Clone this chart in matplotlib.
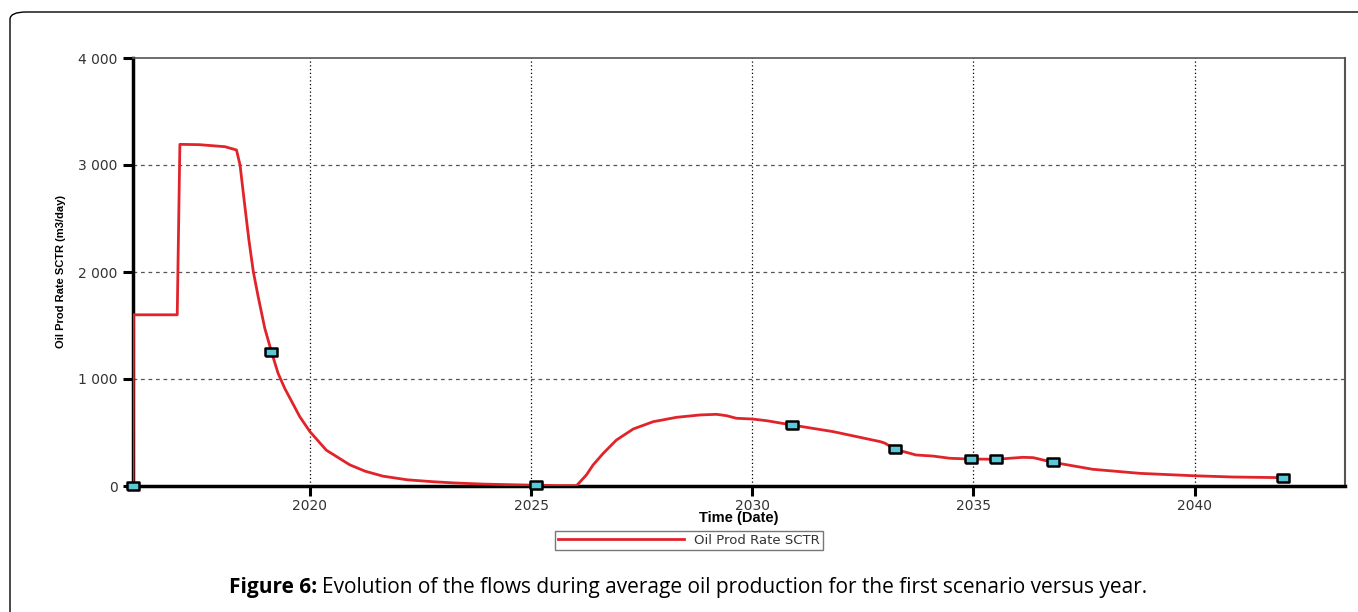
import numpy as np
import matplotlib
matplotlib.use("Agg")
import matplotlib.pyplot as plt
from matplotlib.patches import FancyBboxPatch
from matplotlib.ticker import FuncFormatter

# oil production rate (year, m3/day)
years = [2016.0, 2016.01, 2017.0, 2017.03, 2017.06, 2017.5, 2018.08, 2018.34,
         2018.42, 2018.53, 2018.62, 2018.72, 2018.83, 2018.98, 2019.13, 2019.28,
         2019.43, 2019.77, 2020.0, 2020.37, 2020.9, 2021.25, 2021.65, 2022.2,
         2022.78, 2023.3, 2023.9, 2025.0, 2025.6, 2026.03, 2026.25, 2026.4,
         2026.63, 2026.93, 2027.31, 2027.76, 2028.29, 2028.82, 2029.19, 2029.42,
         2029.64, 2030.0, 2030.33, 2030.9, 2031.83, 2032.9, 2033.0, 2033.23,
         2033.7, 2034.08, 2034.47, 2034.92, 2035.52, 2036.12, 2036.35, 2036.8,
         2037.7, 2038.77, 2039.97, 2040.87, 2042.0]
rate = [0, 1600, 1600, 2400, 3193, 3190, 3171, 3140,
        3000, 2610, 2300, 2003, 1769, 1473, 1255, 1053,
        913, 648, 508, 335, 198, 138, 92, 58,
        40, 28, 18, 8, 4, 4, 103, 196,
        305, 430, 533, 601, 642, 664, 670, 657,
        633, 626, 610, 570, 508, 414, 400, 343,
        290, 280, 259, 252, 250, 268, 265, 221,
        156, 118, 96, 84, 78]

# marker positions on the curve
mark_years = [2016.0, 2019.13, 2025.1, 2030.9, 2033.23, 2034.95, 2035.52, 2036.8, 2042.0]
mark_rate = [0, 1255, 10, 570, 343, 252, 250, 221, 78]

xticks = [2020, 2025, 2030, 2035, 2040]
yticks = [0, 1000, 2000, 3000, 4000]

plt.rcParams['font.family'] = ['DejaVu Sans']

W, H = 1358, 612
fig = plt.figure(figsize=(W / 100, H / 100), dpi=100)

# rounded frame around the figure
frame = FancyBboxPatch((10 / W, -0.2), 1.2, (H - 12) / H + 0.2,
                       boxstyle="round,pad=0,rounding_size=0.012",
                       transform=fig.transFigure, fill=False,
                       edgecolor="black", linewidth=1.0)
fig.patches.append(frame)

ax = fig.add_axes([133 / W, 1 - 486 / H, (1345 - 133) / W, (486 - 58) / H])

# small wide rectangles like the simulator's well markers
rect = [(-1.4, -1), (1.4, -1), (1.4, 1), (-1.4, 1), (-1.4, -1)]

ax.plot(years, rate, color="#e0242a", linewidth=2.0, label="Oil Prod Rate SCTR", zorder=3)
ax.scatter(mark_years, mark_rate, marker=rect, s=75, facecolor="#5bc8d8",
           edgecolor="black", linewidth=1.8, zorder=4, clip_on=False)

ax.set_xlim(2016.0, 2043.4)
ax.set_ylim(0, 4000)
ax.set_xticks(xticks)
ax.set_yticks(yticks)
ax.yaxis.set_major_formatter(FuncFormatter(lambda v, p: f"{int(v):,}".replace(",", " ")))
ax.tick_params(axis="both", direction="out", length=7, width=2.2, labelsize=10,
               labelcolor="#333333")
ax.tick_params(axis="x", pad=2)
ax.tick_params(axis="y", pad=4)

for x in xticks:
    ax.axvline(x, color="black", linestyle=(0, (1, 2)), linewidth=0.9, zorder=1)
for y in yticks[1:4]:
    ax.axhline(y, color="#555555", linestyle=(0, (3, 3)), linewidth=0.9, zorder=1)

ax.spines["left"].set_linewidth(2.5)
ax.spines["bottom"].set_linewidth(2.5)
ax.spines["top"].set_color("#555555")
ax.spines["right"].set_color("#555555")
ax.spines["top"].set_linewidth(1.2)
ax.spines["right"].set_linewidth(1.5)

ax.set_ylabel("Oil Prod Rate SCTR (m3/day)", fontsize=8, fontweight="bold",
              family="Liberation Sans", labelpad=9)
ax.set_xlabel("Time (Date)", fontsize=10.5, fontweight="bold", labelpad=-1,
              family="Liberation Sans")

leg = ax.legend(loc="upper center", bbox_to_anchor=((689 - 133) / 1212, -0.089),
                frameon=True, fancybox=False, fontsize=9.5, handlelength=9.5,
                borderpad=0.25, edgecolor="#555555")
leg.get_frame().set_linewidth(1.0)
for t in leg.get_texts():
    t.set_color("#333333")

# caption: bold label followed by regular text
renderer = fig.canvas.get_renderer()
cap_y = 1 - 587 / H
bold = fig.text(0, cap_y, "Figure 6: ", fontsize=15, family="Open Sans",
                fontweight="bold", va="center")
rest = fig.text(0, cap_y,
                "Evolution of the flows during average oil production for the first scenario versus year.",
                fontsize=15, family="Open Sans", va="center")
wb = bold.get_window_extent(renderer).width
wr = rest.get_window_extent(renderer).width
x0 = 688 - (wb + wr) / 2
bold.set_x(x0 / W)
rest.set_x((x0 + wb) / W)

fig.savefig("out.png", dpi=100)
